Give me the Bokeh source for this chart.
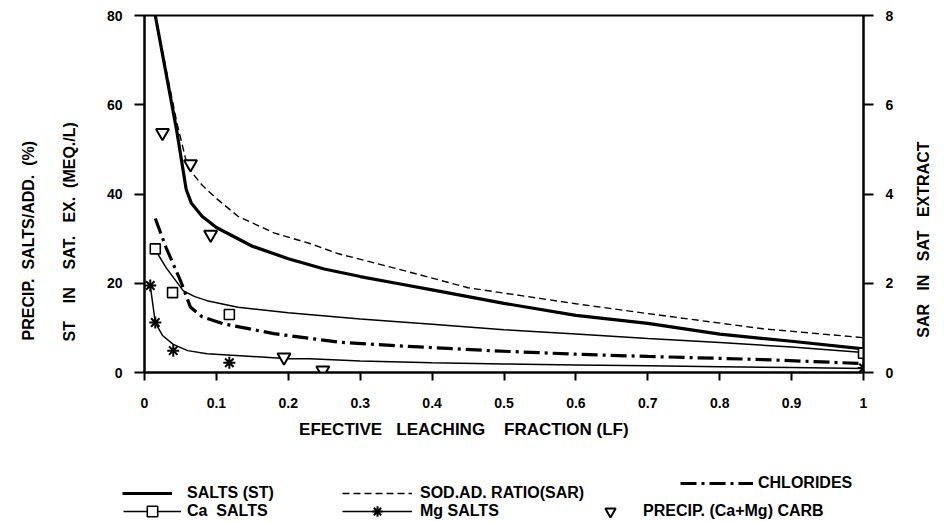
import math
import numpy as np
from bokeh.plotting import figure
from bokeh.layouts import column
from bokeh.models import (Range1d, LinearAxis, FixedTicker, Legend, LegendItem,
                          NumeralTickFormatter, CustomJSTickFormatter)
from bokeh.embed import file_html
from bokeh.resources import INLINE

# ---------------- data ----------------
lf_st = [0.015, 0.03, 0.045, 0.058, 0.065, 0.08, 0.1, 0.15, 0.2, 0.25, 0.3, 0.35, 0.4, 0.5, 0.6, 0.7, 0.8, 0.9, 1.0]
salts_st = [80, 67, 54, 41, 38, 35, 32.5, 28.3, 25.5, 23.2, 21.5, 20, 18.5, 15.5, 12.8, 11, 8.6, 7, 5.3]

lf_sar = [0.015, 0.03, 0.045, 0.06, 0.08, 0.1, 0.13, 0.18, 0.23, 0.27, 0.35, 0.45, 0.6, 0.7, 0.86, 1.0]
sar = [8.0, 6.8, 5.6, 4.6, 4.2, 3.9, 3.5, 3.13, 2.89, 2.66, 2.33, 1.9, 1.54, 1.32, 0.98, 0.78]

lf_ca = [0.015, 0.03, 0.054, 0.07, 0.087, 0.13, 0.2, 0.3, 0.4, 0.5, 0.6, 0.7, 0.8, 0.9, 1.0]
ca_salts = [27.5, 23.5, 18.3, 17, 16.1, 14.6, 13.4, 12, 10.8, 9.6, 8.6, 7.6, 6.7, 5.7, 4.5]
lf_ca_pts = [0.015, 0.039, 0.118, 1.0]
ca_pts = [27.7, 17.9, 13.0, 4.3]

lf_cl = [0.015, 0.03, 0.05, 0.064, 0.08, 0.11, 0.18, 0.27, 0.35, 0.48, 0.6, 0.7, 0.86, 1.0]
chlorides = [34.5, 28, 20.6, 14.6, 12.5, 10.9, 8.7, 6.8, 6.0, 4.9, 4.1, 3.6, 2.9, 2.0]

lf_mg = [0.008, 0.015, 0.025, 0.04, 0.06, 0.087, 0.15, 0.2, 0.23, 0.3, 0.4, 0.5, 0.6, 0.7, 0.8, 0.9, 1.0]
mg_salts = [19.5, 11.2, 8.3, 6.3, 4.9, 4.2, 3.6, 3.1, 3.1, 2.6, 2.2, 1.9, 1.7, 1.5, 1.3, 1.1, 0.9]
lf_mg_pts = [0.008, 0.015, 0.04, 0.118, 1.0]
mg_pts = [19.5, 11.2, 4.9, 2.2, 1.0]

lf_prec = [0.025, 0.064, 0.092, 0.194, 0.248]
precip = [53.7, 46.7, 30.9, 3.4, 0.5]

x_ticks = [0, 0.1, 0.2, 0.3, 0.4, 0.5, 0.6, 0.7, 0.8, 0.9, 1.0]
y_ticks = [0, 20, 40, 60, 80]
sar_ticks = [0, 2, 4, 6, 8]

NB = "\u00a0"
FONT = "Liberation Sans"

x_title = "EFECTIVE" + NB * 3 + "LEACHING" + NB * 4 + "FRACTION" + NB + "(LF)" + NB * 17
y_title_inner = "ST" + NB * 4 + "IN" + NB * 4 + "SAT." + NB * 3 + "EX." + NB * 2 + "(MEQ./L)" + NB * 17
y_title_outer = "PRECIP." + NB * 2 + "SALTS/ADD." + NB * 2 + "(%)" + NB * 21
y_title_right = "SAR" + NB * 3 + "IN" + NB * 3 + "SAT" + NB * 3 + "EXTRACT"
right_title_start = 0.78   # SAR value where the right-hand title starts (bottom end)

# ---------------- main figure ----------------
p = figure(width=944, height=455, output_backend="svg", toolbar_location=None,
           x_range=Range1d(0, 1), y_range=Range1d(0, 80),
           min_border_left=144, min_border_right=81, min_border_top=15, min_border_bottom=83)
p.extra_y_ranges = {"sar": Range1d(0, 8)}
p.grid.visible = False
p.outline_line_color = "black"
p.outline_line_width = 2
p.background_fill_color = "white"
p.border_fill_color = "white"


def style_axis(ax, tick_out, standoff, title_standoff, title_size="16px"):
    ax.axis_line_color = "black"
    ax.axis_line_width = 2
    ax.major_tick_line_color = "black"
    ax.major_tick_line_width = 2
    ax.major_tick_in = 0
    ax.major_tick_out = tick_out
    ax.minor_tick_line_color = None
    ax.major_label_text_font = FONT
    ax.major_label_text_font_style = "bold"
    ax.major_label_text_font_size = "14px"
    ax.major_label_text_color = "black"
    ax.major_label_standoff = standoff
    ax.axis_label_text_font = FONT
    ax.axis_label_text_font_style = "bold"
    ax.axis_label_text_font_size = title_size
    ax.axis_label_text_color = "black"
    ax.axis_label_standoff = title_standoff


xa = p.xaxis[0]
xa.ticker = FixedTicker(ticks=x_ticks)
xa.formatter = NumeralTickFormatter(format="0.[0]")
xa.axis_label = x_title
style_axis(xa, 8, 17, 9, "17px")

ya = p.yaxis[0]
ya.ticker = FixedTicker(ticks=y_ticks)
ya.axis_label = y_title_inner
style_axis(ya, 10, 12, 26)

ya_out = LinearAxis(ticker=FixedTicker(ticks=[]), axis_label=y_title_outer)
style_axis(ya_out, 0, 0, 21)
ya_out.axis_line_color = None
p.add_layout(ya_out, "left")

ya_r = LinearAxis(y_range_name="sar", ticker=FixedTicker(ticks=sar_ticks))
style_axis(ya_r, 10, 12, 0)
p.add_layout(ya_r, "right")

# right-hand title: drawn as the single (rotated) label of a bare extra axis
ya_rt = LinearAxis(y_range_name="sar", ticker=FixedTicker(ticks=[right_title_start]),
                   formatter=CustomJSTickFormatter(code="return %r;" % y_title_right))
style_axis(ya_rt, 0, 27, 0)
ya_rt.axis_line_color = None
ya_rt.major_tick_line_color = None
ya_rt.major_label_text_font_size = "16px"
ya_rt.major_label_orientation = math.pi / 2
p.add_layout(ya_rt, "right")

# ---------------- series ----------------
r_st = p.line(lf_st, salts_st, line_color="black", line_width=3.2)
r_sar = p.line(lf_sar, sar, y_range_name="sar", line_color="black", line_width=1.4, line_dash="7 4")
r_cl = p.line(lf_cl, chlorides, line_color="black", line_width=3.2, line_dash="16 5 3 5")
r_ca = p.line(lf_ca, ca_salts, line_color="black", line_width=1.5)
r_ca_pts = p.scatter(lf_ca_pts, ca_pts, marker="square", size=10, line_color="black",
                     line_width=1.6, fill_color="white")
r_mg = p.line(lf_mg, mg_salts, line_color="black", line_width=1.5)
r_mg_pts = p.scatter(lf_mg_pts, mg_pts, marker="asterisk", size=12, line_color="black", line_width=2)
r_pr = p.scatter(lf_prec, precip, marker="inverted_triangle", size=13, line_color="black",
                 line_width=2, fill_color="white")

# ---------------- legend strip ----------------
lg_fig = figure(width=944, height=67, output_backend="svg", toolbar_location=None,
                x_range=Range1d(0, 1), y_range=Range1d(0, 1),
                x_axis_location=None, y_axis_location=None,
                min_border_left=0, min_border_right=0, min_border_top=0, min_border_bottom=0)
lg_fig.grid.visible = False
lg_fig.outline_line_color = None
lg_fig.border_fill_color = "white"
lg_fig.background_fill_color = "white"
for fig in (p, lg_fig):
    try:
        fig.frame_align = False
    except Exception:
        pass

nan = np.array([np.nan])
k_st = lg_fig.line(nan, nan, line_color="black", line_width=3.2)
k_sar = lg_fig.line(nan, nan, line_color="black", line_width=1.4, line_dash="7 4")
k_cl = lg_fig.line(nan, nan, line_color="black", line_width=3.2, line_dash="16 5 3 5")
k_ca = lg_fig.line(nan, nan, line_color="black", line_width=1.5)
k_ca_m = lg_fig.scatter(nan, nan, marker="square", size=10, line_color="black", line_width=1.6,
                        fill_color="white")
k_mg = lg_fig.line(nan, nan, line_color="black", line_width=1.5)
k_mg_m = lg_fig.scatter(nan, nan, marker="asterisk", size=12, line_color="black", line_width=2)
k_pr = lg_fig.scatter(nan, nan, marker="inverted_triangle", size=13, line_color="black",
                      line_width=2, fill_color="white")


def add_legend(label, rends, loc, gw, standoff):
    lg = Legend(items=[LegendItem(label=label, renderers=rends)], location=loc,
                orientation="horizontal", glyph_width=gw, glyph_height=26, label_height=26,
                label_standoff=standoff, padding=0, margin=0, spacing=0,
                border_line_color=None, background_fill_alpha=0,
                label_text_font=FONT, label_text_font_style="bold",
                label_text_font_size="16px", label_text_color="black")
    lg_fig.add_layout(lg)


add_legend("SALTS (ST)", [k_st], (122, 16), 50, 15)
add_legend("Ca" + NB + NB + "SALTS", [k_ca, k_ca_m], (123, -2), 58, 6)
add_legend("SOD.AD. RATIO(SAR)", [k_sar], (342, 16), 70, 8)
add_legend("Mg SALTS", [k_mg, k_mg_m], (342, -2), 70, 8)
add_legend("CHLORIDES", [k_cl], (680, 26), 73, 5)
add_legend("PRECIP. (Ca+Mg) CARB", [k_pr], (597, -2), 26, 20)

layout = column(p, lg_fig, spacing=0)
open("out.html", "w").write(file_html(layout, INLINE))
